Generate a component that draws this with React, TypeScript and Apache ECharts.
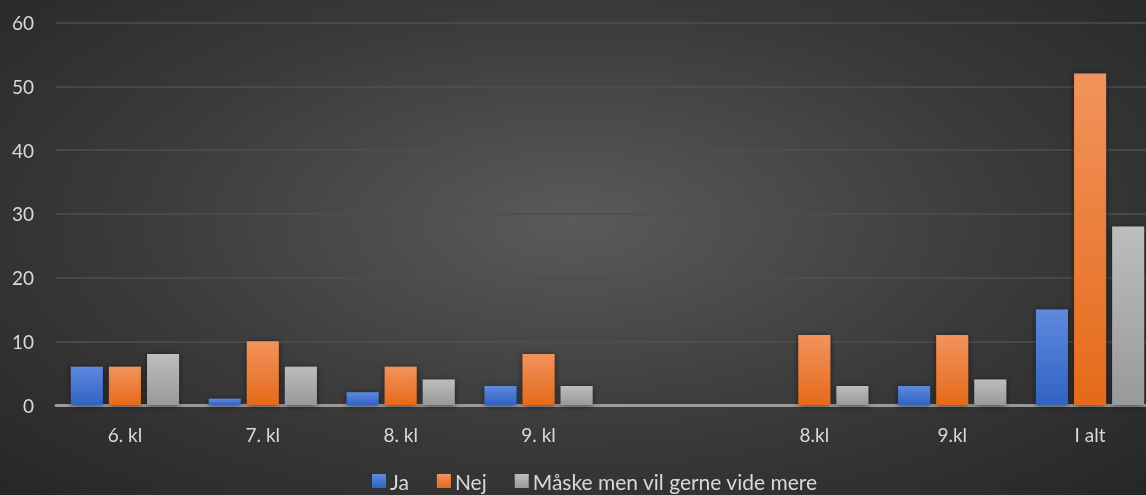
import React, { useEffect, useRef } from "react";
import * as echarts from "echarts";

const categories = ["6. kl", "7. kl", "8. kl", "9. kl", "", "8.kl", "9.kl", "I alt"];
const seriesNames = ["Ja", "Nej", "Måske men vil gerne vide mere"];
const jaValues = [6, 1, 2, 3, null, null, 3, 15];
const nejValues = [6, 10, 6, 8, null, 11, 11, 52];
const maskeValues = [8, 6, 4, 3, null, 3, 4, 28];
const yTicks = { min: 0, max: 60, interval: 10 };

const FONT = "Lato";

function grad(top: string, bottom: string) {
  return new echarts.graphic.LinearGradient(0, 0, 0, 1, [
    { offset: 0, color: top },
    { offset: 1, color: bottom },
  ]);
}

export default function App() {
  const ref = useRef<HTMLDivElement>(null);
  useEffect(() => {
    if (!ref.current) return;
    const chart = echarts.init(ref.current, undefined, { renderer: "svg" });
    const barBase = {
      type: "bar" as const,
      barWidth: 32,
      barGap: "19%",
      itemStyle: { shadowBlur: 6, shadowColor: "rgba(0,0,0,0.55)", shadowOffsetY: 1 },
    };
    chart.setOption({
      animation: false,
      backgroundColor: "transparent",
      textStyle: { fontFamily: FONT },
      grid: {
        left: 56,
        width: 1103,
        top: 22.5,
        bottom: 90,
        containLabel: false,
        outerBoundsMode: "none",
      },
      legend: {
        top: 470,
        left: 372,
        padding: 0,
        itemWidth: 14,
        itemHeight: 14,
        itemGap: 28,
        icon: "rect",
        textStyle: { color: "#d9d9d9", fontSize: 21, fontFamily: FONT, lineHeight: 22, padding: [0, 0, 0, -1] },
        data: seriesNames,
      },
      xAxis: {
        type: "category",
        data: categories,
        axisLine: { show: true, lineStyle: { color: "#9a9a9a", width: 3 } },
        axisTick: { show: false },
        axisLabel: { color: "#d9d9d9", fontSize: 19, margin: 20, fontFamily: FONT },
      },
      yAxis: {
        type: "value",
        min: yTicks.min,
        max: yTicks.max,
        interval: yTicks.interval,
        axisLine: { show: false },
        axisTick: { show: false },
        axisLabel: { color: "#d9d9d9", fontSize: 19, margin: 22, fontFamily: FONT },
        splitLine: { lineStyle: { color: "#4f4f4f", width: 1.5 } },
      },
      series: [
        {
          ...barBase,
          name: seriesNames[0],
          data: jaValues,
          itemStyle: { ...barBase.itemStyle, color: grad("#5e8ade", "#3062c4") },
        },
        {
          ...barBase,
          name: seriesNames[1],
          data: nejValues,
          itemStyle: { ...barBase.itemStyle, color: grad("#f2935c", "#e56a1a") },
        },
        {
          ...barBase,
          name: seriesNames[2],
          data: maskeValues,
          itemStyle: { ...barBase.itemStyle, color: grad("#bdbdbd", "#999999") },
        },
      ],
    });
    return () => chart.dispose();
  }, []);
  return (
    <div
      style={{
        position: "fixed",
        left: 0,
        top: 0,
        width: 1146,
        height: 495,
        overflow: "hidden",
        background: "radial-gradient(ellipse at 50% 45%, #5a5a5a 0%, #3a3a3a 55%, #262626 100%)",
      }}
    >
      <div ref={ref} style={{ width: 1146, height: 495 }} />
    </div>
  );
}
